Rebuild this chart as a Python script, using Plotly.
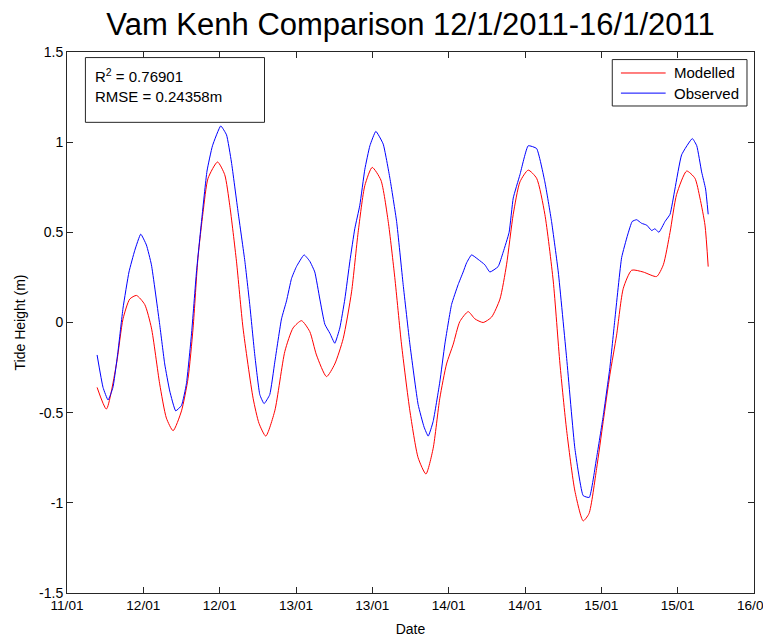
import plotly.graph_objects as go

# time in days of January 2011 (e.g. 12.5 = 12/01 12:00)
mod_t = [11.697, 11.758, 11.824, 11.867, 11.911, 11.955, 12.009, 12.053, 12.107, 12.151,
         12.195, 12.250, 12.293, 12.326, 12.358, 12.391, 12.424, 12.486, 12.533, 12.566,
         12.610, 12.653, 12.719, 12.758, 12.802, 12.861, 12.927, 12.981, 13.036, 13.090,
         13.134, 13.200, 13.254, 13.309, 13.364, 13.407, 13.451, 13.499, 13.556, 13.604,
         13.647, 13.691, 13.746, 13.800, 13.851, 13.898, 13.942, 13.986, 14.030, 14.073,
         14.128, 14.172, 14.226, 14.281, 14.336, 14.379, 14.423, 14.467, 14.521, 14.576,
         14.630, 14.685, 14.729, 14.773, 14.827, 14.881, 14.919, 14.969, 15.012, 15.056,
         15.100, 15.144, 15.199, 15.274, 15.362, 15.406, 15.450, 15.493, 15.559, 15.613,
         15.646, 15.679, 15.700]
mod_h = [-0.36, -0.48, -0.23, 0.02, 0.13, 0.15, 0.10, -0.03, -0.34, -0.53,
         -0.60, -0.49, -0.31, -0.03, 0.36, 0.61, 0.80, 0.89, 0.82, 0.65,
         0.34, -0.03, -0.42, -0.56, -0.63, -0.49, -0.16, -0.03, 0.01, -0.05,
         -0.18, -0.30, -0.23, -0.09, 0.17, 0.50, 0.76, 0.86, 0.79, 0.56,
         0.25, -0.12, -0.49, -0.75, -0.84, -0.70, -0.42, -0.23, -0.12, 0.005,
         0.06, 0.02, 0.00, 0.03, 0.13, 0.32, 0.60, 0.78, 0.845, 0.80,
         0.60, 0.23, -0.23, -0.60, -0.935, -1.10, -1.06, -0.81, -0.55, -0.29,
         -0.07, 0.19, 0.29, 0.28, 0.255, 0.32, 0.50, 0.71, 0.84, 0.80,
         0.69, 0.54, 0.31]

obs_t = [11.697, 11.736, 11.769, 11.801, 11.834, 11.867, 11.906, 11.944, 11.983, 12.020,
         12.053, 12.107, 12.140, 12.173, 12.212, 12.250, 12.282, 12.315, 12.348, 12.381,
         12.417, 12.453, 12.507, 12.545, 12.577, 12.621, 12.665, 12.697, 12.730, 12.763,
         12.791, 12.828, 12.861, 12.905, 12.938, 12.971, 13.003, 13.053, 13.090, 13.123,
         13.156, 13.189, 13.222, 13.254, 13.287, 13.320, 13.353, 13.385, 13.418, 13.451,
         13.484, 13.523, 13.571, 13.615, 13.659, 13.702, 13.746, 13.800, 13.839, 13.866,
         13.898, 13.942, 13.975, 14.019, 14.062, 14.095, 14.117, 14.150, 14.193, 14.237,
         14.270, 14.324, 14.357, 14.396, 14.423, 14.467, 14.521, 14.576, 14.630, 14.674,
         14.718, 14.773, 14.827, 14.881, 14.921, 14.969, 15.012, 15.056, 15.089, 15.133,
         15.172, 15.202, 15.231, 15.264, 15.297, 15.330, 15.351, 15.377, 15.417, 15.450,
         15.482, 15.526, 15.596, 15.625, 15.657, 15.683, 15.700]
obs_h = [-0.18, -0.36, -0.43, -0.36, -0.16, 0.08, 0.28, 0.40, 0.49, 0.43,
         0.32, -0.01, -0.23, -0.38, -0.49, -0.46, -0.34, -0.07, 0.28, 0.56,
         0.84, 0.98, 1.09, 1.04, 0.89, 0.61, 0.34, 0.10, -0.18, -0.40,
         -0.45, -0.40, -0.22, 0.02, 0.12, 0.245, 0.31, 0.375, 0.34, 0.28,
         0.13, -0.01, -0.06, -0.115, -0.03, 0.13, 0.34, 0.52, 0.65, 0.85,
         0.98, 1.06, 0.99, 0.80, 0.56, 0.21, -0.12, -0.455, -0.58, -0.63,
         -0.55, -0.33, -0.12, 0.10, 0.21, 0.28, 0.33, 0.375, 0.35, 0.32,
         0.28, 0.31, 0.39, 0.50, 0.69, 0.82, 0.98, 0.965, 0.78, 0.56,
         0.28, -0.20, -0.70, -0.96, -0.97, -0.75, -0.52, -0.25, 0.02, 0.36,
         0.485, 0.56, 0.57, 0.55, 0.54, 0.51, 0.52, 0.50, 0.56, 0.60,
         0.74, 0.93, 1.02, 0.98, 0.835, 0.74, 0.60]

x_tick_vals = [11.5, 12.0, 12.5, 13.0, 13.5, 14.0, 14.5, 15.0, 15.5, 16.0]
x_tick_text = ["11/01", "12/01", "12/01", "13/01", "13/01", "14/01", "14/01", "15/01", "15/01", "16/01"]
y_tick_vals = [-1.5, -1, -0.5, 0, 0.5, 1, 1.5]
y_tick_text = ["-1.5", "-1", "-0.5", "0", "0.5", "1", "1.5"]

series_names = ["Modelled", "Observed"]
series_colors = ["#ff0000", "#0000ff"]

FONT = "Liberation Sans, Arial, Helvetica, sans-serif"
AXC = "#262626"

fig = go.Figure()
fig.add_trace(go.Scatter(x=mod_t, y=mod_h, mode="lines", name=series_names[0], showlegend=False,
                         line=dict(color=series_colors[0], width=1, shape="spline", smoothing=0.6)))
fig.add_trace(go.Scatter(x=obs_t, y=obs_h, mode="lines", name=series_names[1], showlegend=False,
                         line=dict(color=series_colors[1], width=1, shape="spline", smoothing=0.4)))

axis_common = dict(showline=True, linecolor=AXC, linewidth=1, mirror="ticks",
                   ticks="inside", ticklen=6, tickcolor=AXC, showgrid=False, automargin=False,
                   ticklabeloverflow="allow", zeroline=False)

fig.update_xaxes(range=[11.5, 16.0], tickmode="array", tickvals=x_tick_vals, ticktext=x_tick_text,
                 tickfont=dict(family=FONT, size=13.6, color="black"),
                 title=dict(text="Date", font=dict(family=FONT, size=14, color="black"), standoff=11),
                 **axis_common)
fig.update_yaxes(range=[-1.5, 1.5], tickmode="array", tickvals=y_tick_vals, ticktext=y_tick_text,
                 tickfont=dict(family=FONT, size=14, color="black"),
                 title=dict(text="Tide Height (m)", font=dict(family=FONT, size=14, color="black"), standoff=10),
                 **axis_common)

# statistics text box
fig.add_shape(type="rect", xref="paper", yref="paper", x0=0.0268, x1=0.2875, y0=0.870, y1=0.9897,
              line=dict(color=AXC, width=1), fillcolor="white", layer="above")
fig.add_annotation(xref="paper", yref="paper", x=0.0376, y=0.978, xanchor="left", yanchor="top",
                   text="R<sup>2</sup> = 0.76901<br>RMSE = 0.24358m", showarrow=False, align="left",
                   font=dict(family=FONT, size=15, color="black"))

# legend box (drawn as in the original figure)
fig.add_shape(type="rect", xref="paper", yref="paper", x0=0.7937, x1=0.9898, y0=0.9002, y1=0.986,
              line=dict(color=AXC, width=1), fillcolor="white", layer="above")
leg_y = [0.9612, 0.924]
for name, color, ly in zip(series_names, series_colors, leg_y):
    fig.add_shape(type="line", xref="paper", yref="paper", x0=0.8063, x1=0.8714, y0=ly, y1=ly,
                  line=dict(color=color, width=1), layer="above")
    fig.add_annotation(xref="paper", yref="paper", x=0.8802, y=ly, xanchor="left", yanchor="middle",
                       text=name, showarrow=False, font=dict(family=FONT, size=15, color="black"))

# the page adds an 8px body margin; the figure is made a little wider than the
# remaining space so the last tick label is not clipped by the svg edge
fig.update_layout(
    width=779, height=629,
    margin=dict(l=59, r=33, t=44, b=44, autoexpand=False),
    paper_bgcolor="white", plot_bgcolor="white",
    title=dict(text="Vam Kenh Comparison 12/1/2011-16/1/2011", x=0.5, xanchor="center",
               xref="paper", yref="container", y=0.975, yanchor="middle",
               font=dict(family=FONT, size=31, color="black")),
    showlegend=False,
)

fig.write_html("out.html")
